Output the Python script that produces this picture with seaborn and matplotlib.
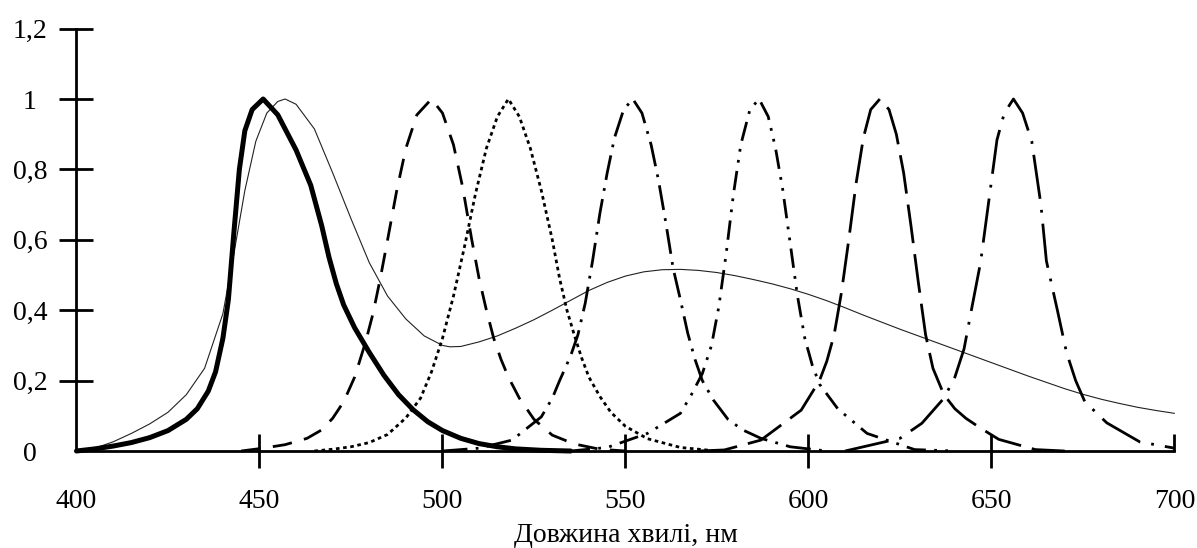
import numpy as np
import pandas as pd
import matplotlib
matplotlib.use('Agg')
import matplotlib.pyplot as plt
import matplotlib.lines as mlines
import seaborn as sns

# Spectral curves (wavelength nm, relative intensity)
thick_wl = [400, 405, 410, 415, 420, 425, 430, 433, 436, 438, 440, 441.5, 443, 444.5, 446, 448, 451,
            455, 460, 464, 467, 469, 471, 473, 476, 480, 484, 488, 492, 496, 500, 505, 510, 515, 520, 527, 535]
thick_val = [0, 0.006, 0.014, 0.024, 0.038, 0.058, 0.09, 0.12, 0.17, 0.225, 0.32, 0.43, 0.62, 0.8, 0.91, 0.97, 1.0,
             0.955, 0.855, 0.755, 0.64, 0.55, 0.475, 0.415, 0.35, 0.28, 0.215, 0.16, 0.117, 0.083, 0.058, 0.036, 0.021, 0.012, 0.006, 0.002, 0]

thin_wl = [400, 405, 410, 415, 420, 425, 430, 435, 440, 443, 446, 449, 452, 455, 457, 460, 465, 470, 475, 480,
           485, 490, 495, 500, 502, 505, 510, 515, 520, 525, 530, 535, 540, 545, 550, 555, 560, 565, 570, 575,
           580, 585, 590, 595, 600, 605, 610, 615, 620, 625, 630, 635, 640, 645, 650, 655, 660, 665, 670, 675,
           680, 685, 690, 695, 700]
thin_val = [0, 0.008, 0.026, 0.05, 0.077, 0.11, 0.16, 0.235, 0.39, 0.56, 0.74, 0.88, 0.96, 0.993, 1.0, 0.985, 0.915, 0.79, 0.66, 0.535,
            0.44, 0.375, 0.327, 0.3, 0.296, 0.297, 0.31, 0.327, 0.349, 0.373, 0.4, 0.428, 0.456, 0.479, 0.497, 0.509, 0.515, 0.516, 0.513, 0.507,
            0.498, 0.487, 0.475, 0.461, 0.445, 0.427, 0.407, 0.386, 0.366, 0.346, 0.327, 0.308, 0.289, 0.27, 0.251, 0.232, 0.213, 0.195, 0.177, 0.161,
            0.147, 0.135, 0.124, 0.115, 0.107]

dash_wl = [445, 451, 457, 463, 467, 470, 473, 476, 479, 481, 483, 485, 487.5, 490, 493, 497,
           500, 503, 505.5, 508, 510, 512, 514, 516, 518, 521, 525, 530, 536, 543, 550]
dash_val = [0, 0.008, 0.018, 0.036, 0.06, 0.093, 0.14, 0.21, 0.31, 0.39, 0.49, 0.6, 0.74, 0.86, 0.955, 1.0,
            0.96, 0.87, 0.75, 0.6, 0.49, 0.4, 0.32, 0.26, 0.21, 0.15, 0.09, 0.045, 0.02, 0.005, 0]

dot_wl = [465, 470, 475, 480, 485, 490, 494, 497, 500, 503, 506, 509, 512, 515, 518,
          521, 524, 527, 530, 532, 534, 536, 538, 540, 543, 546, 550, 556, 565, 575]
dot_val = [0, 0.005, 0.012, 0.024, 0.047, 0.094, 0.15, 0.225, 0.32, 0.44, 0.58, 0.73, 0.86, 0.95, 1.0,
           0.95, 0.86, 0.74, 0.6, 0.49, 0.4, 0.33, 0.265, 0.21, 0.155, 0.11, 0.07, 0.035, 0.01, 0]

dashdot_wl = [500, 510, 519, 527, 530, 532, 535, 537, 539, 541, 543, 545, 547, 549.5, 552,
              554.5, 557, 559, 561, 563, 565, 567, 569, 571, 574, 578, 582, 587, 595, 605]
dashdot_val = [0, 0.008, 0.031, 0.097, 0.15, 0.2, 0.27, 0.33, 0.42, 0.54, 0.675, 0.79, 0.89, 0.97, 1.0,
               0.96, 0.87, 0.77, 0.65, 0.52, 0.43, 0.335, 0.26, 0.2, 0.145, 0.09, 0.06, 0.036, 0.012, 0]

dashdotdot_wl = [535, 545, 556, 565, 568, 571, 573.5, 575.5, 577.5, 579.5, 581.5, 584, 586.5,
                 589, 591, 593, 595, 597, 599, 601, 603, 608, 616, 629, 640]
dashdotdot_val = [0, 0.01, 0.05, 0.107, 0.16, 0.22, 0.3, 0.41, 0.56, 0.73, 0.87, 0.97, 1.0,
                  0.95, 0.86, 0.74, 0.59, 0.44, 0.32, 0.245, 0.19, 0.12, 0.05, 0.004, 0]

longdash_wl = [570, 577, 587, 598, 603, 605, 607, 609, 611, 613, 615, 617, 619.5,
               622, 624, 626, 628, 630, 632, 634, 637, 640, 643, 647, 652, 662, 670]
longdash_val = [0, 0.003, 0.031, 0.116, 0.2, 0.255, 0.33, 0.45, 0.6, 0.76, 0.89, 0.97, 1.0,
                0.97, 0.9, 0.79, 0.64, 0.48, 0.33, 0.235, 0.16, 0.12, 0.093, 0.065, 0.033, 0.004, 0]

longdashdot_wl = [610, 625, 631, 637, 640, 642.5, 644.5, 647, 649, 651.5, 653.5, 656,
                  658.5, 661, 663.5, 665, 668, 670.5, 673, 675.5, 681.5, 690.5, 700]
longdashdot_val = [0, 0.036, 0.079, 0.15, 0.21, 0.29, 0.4, 0.535, 0.69, 0.884, 0.96, 1.0,
                   0.96, 0.88, 0.7, 0.54, 0.4, 0.28, 0.2, 0.14, 0.08, 0.026, 0.008]

x_ticks = [400, 450, 500, 550, 600, 650, 700]
y_ticks = [0, 0.2, 0.4, 0.6, 0.8, 1.0, 1.2]
y_labels = ['0', '0,2', '0,4', '0,6', '0,8', '1', '1,2']
x_title = 'Довжина хвилі, нм'

curves = {
    'thin': (thin_wl, thin_val),
    'dash': (dash_wl, dash_val),
    'dot': (dot_wl, dot_val),
    'dashdot': (dashdot_wl, dashdot_val),
    'dashdotdot': (dashdotdot_wl, dashdotdot_val),
    'longdash': (longdash_wl, longdash_val),
    'longdashdot': (longdashdot_wl, longdashdot_val),
    'thick': (thick_wl, thick_val),
}
df = pd.concat([pd.DataFrame({'wl': wl, 'val': v, 'curve': name}) for name, (wl, v) in curves.items()],
               ignore_index=True)

dash_styles = {
    'thick': '', 'thin': '',
    'dash': (7, 4.5),
    'dot': (1.3, 1.3),
    'dashdot': (9, 3, 1, 3),
    'dashdotdot': (7, 3, 1, 3, 1, 3),
    'longdash': (14, 4),
    'longdashdot': (16, 4, 1, 4),
}
widths = {'thick': 3.6, 'thin': 0.8, 'dash': 2, 'dot': 2, 'dashdot': 2,
          'dashdotdot': 2, 'longdash': 2, 'longdashdot': 2}

sns.set_theme(style='white')
plt.rcParams['font.family'] = ['Liberation Serif', 'DejaVu Serif']

fig = plt.figure(figsize=(11.97, 5.48), dpi=100)
ax = fig.add_axes([0.0639, 0.177, 0.9173, 0.7708])

sns.lineplot(data=df, x='wl', y='val', style='curve', size='curve', dashes=dash_styles,
             sizes=widths, color='black', estimator=None, sort=False, legend=False, ax=ax)
for line in ax.lines:
    line.set_clip_on(False)
    line.set_solid_joinstyle('round')
ax.lines[0].set_color('#222222')

ax.set_xlim(400, 700)
ax.set_ylim(0, 1.2)
sns.despine(ax=ax)
for s in ['left', 'bottom']:
    ax.spines[s].set_linewidth(2)
    ax.spines[s].set_color('black')

ax.set_xticks(x_ticks)
ax.set_xticklabels([str(t) for t in x_ticks])
ax.set_yticks(y_ticks)
ax.set_yticklabels(y_labels, ha='center')
ax.tick_params(axis='both', direction='inout', length=25, width=2, color='black',
               labelsize=20, labelcolor='black', bottom=True, left=True)
ax.tick_params(axis='x', pad=15)
ax.tick_params(axis='y', pad=21)

# no tick marks at the origin, half tick at the far end of x axis
ax.xaxis.get_major_ticks()[0].tick1line.set_visible(False)
ax.yaxis.get_major_ticks()[0].tick1line.set_visible(False)
last = ax.xaxis.get_major_ticks()[-1].tick1line
last.set_marker(mlines.TICKUP)
last.set_markersize(12.5)

ax.set_xlabel(x_title, fontsize=20, color='black', labelpad=6)
ax.set_ylabel('')

fig.savefig('out.png', dpi=100)
